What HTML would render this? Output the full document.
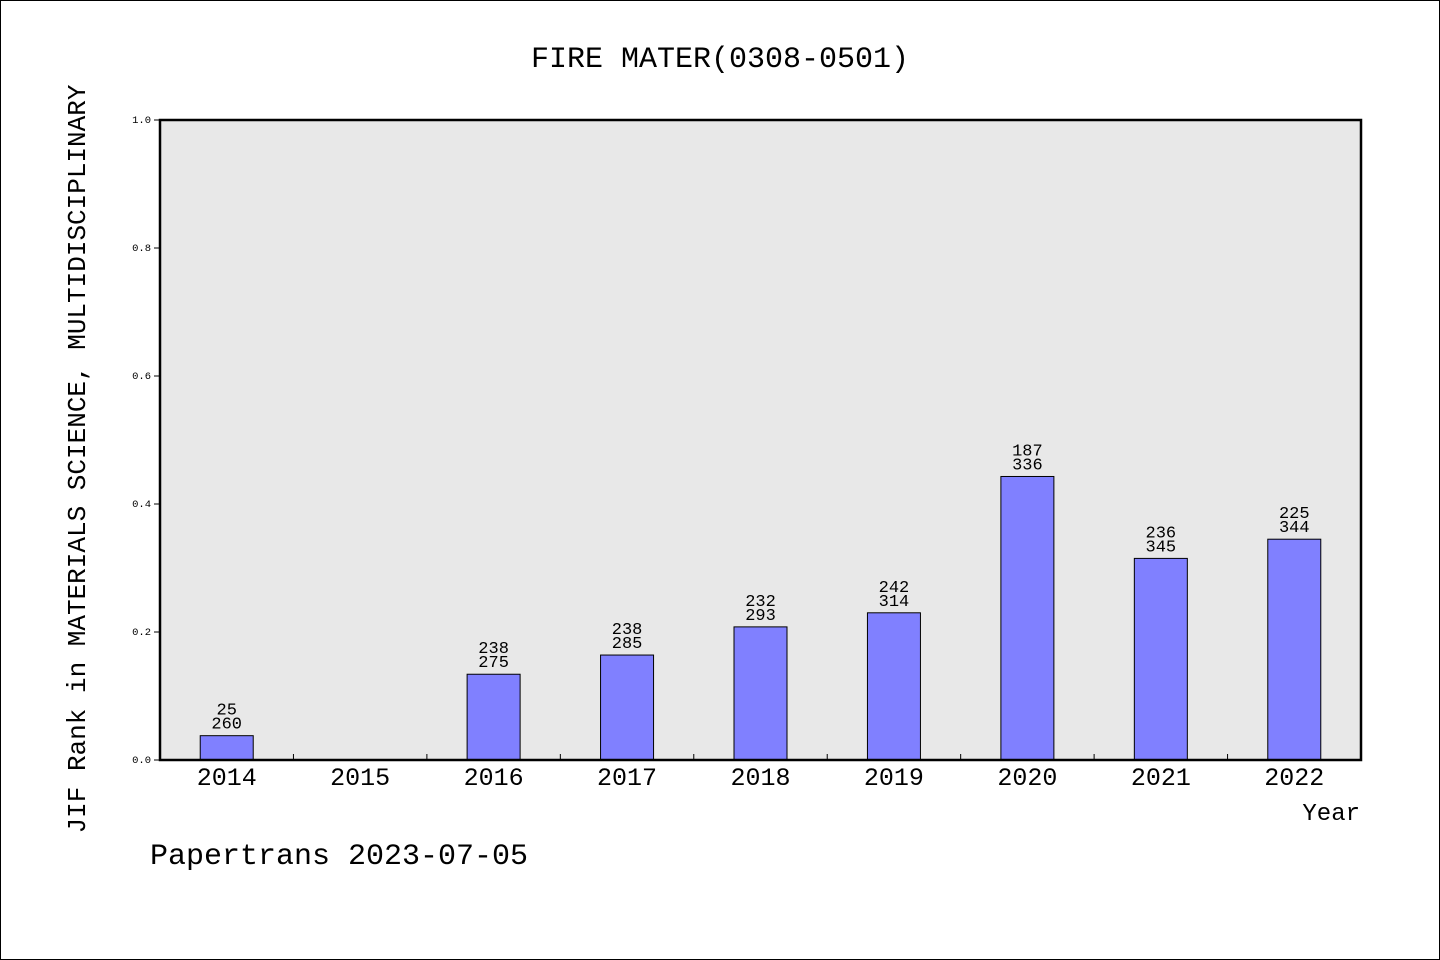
<!DOCTYPE html>
<html><head><meta charset="utf-8"><style>
body{margin:0;background:#fff}
svg{display:block;font-family:"Liberation Mono","DejaVu Sans Mono",monospace}
</style></head><body>
<svg id="c" width="1440" height="960" xmlns="http://www.w3.org/2000/svg">
<rect x="0.5" y="0.5" width="1439" height="959" fill="#fff" stroke="#000"/>
<text x="720" y="67" font-size="30" text-anchor="middle">FIRE MATER(0308-0501)</text>
<rect x="160" y="120" width="1201" height="640" fill="#e8e8e8"/>
<g id="marks"></g>
<rect x="160" y="120" width="1201" height="640" fill="none" stroke="#000" stroke-width="2.5"/>
<text transform="translate(85,459) rotate(-90)" font-size="26" text-anchor="middle">JIF Rank in MATERIALS SCIENCE, MULTIDISCIPLINARY</text>
<text x="1360" y="820" font-size="24" text-anchor="end">Year</text>
<text x="150" y="864" font-size="30">Papertrans 2023-07-05</text>
</svg>
<script>
const years=["2014","2015","2016","2017","2018","2019","2020","2021","2022"];
const values=[0.038,null,0.134,0.164,0.208,0.230,0.443,0.315,0.345];
const ranks=["25","","238","238","232","242","187","236","225"];
const totals=["260","","275","285","293","314","336","345","344"];
const yTicks=[0,0.2,0.4,0.6,0.8,1.0];
const yTickLabels=["0.0","0.2","0.4","0.6","0.8","1.0"];
const X0=160,X1=1361,Y0=760,Y1=120;
const ns="http://www.w3.org/2000/svg";
const g=document.getElementById('marks');
const slot=(X1-X0)/years.length;
const xc=i=>X0+slot*(i+0.5);
const yv=v=>Y0-(Y0-Y1)*v;
function mk(t,a,txt){const e=document.createElementNS(ns,t);for(const k in a)e.setAttribute(k,a[k]);if(txt!==undefined)e.textContent=txt;g.appendChild(e);return e;}
yTicks.forEach((v,i)=>{
 const l=mk('line',{x1:X0-6,x2:X0,y1:yv(v),y2:yv(v),stroke:'#000'});
 
 
 const t=mk('text',{x:X0-9,y:yv(v)+3,'font-size':10.5,'text-anchor':'end'},yTickLabels[i]);
 
 
});
years.forEach((y,i)=>{
 if(i>0){const l=mk('line',{x1:X0+slot*i,x2:X0+slot*i,y1:Y0,y2:Y0-6,stroke:'#000'});
 
 }
 const t=mk('text',{x:xc(i),y:785,'font-size':25,'text-anchor':'middle'},y);
 
 
 const v=values[i];
 if(v==null)return;
 const top=yv(v);
 const r=mk('rect',{x:xc(i)-26.5,y:top,width:53,height:Y0-top,fill:'#8080ff',stroke:'#000','stroke-width':1});
 
 
 const a=mk('text',{x:xc(i),y:top-21,'font-size':17,'text-anchor':'middle'},ranks[i]);
 
 
 const b=mk('text',{x:xc(i),y:top-7,'font-size':17,'text-anchor':'middle'},totals[i]);
 
 
});
</script>
</body></html>
